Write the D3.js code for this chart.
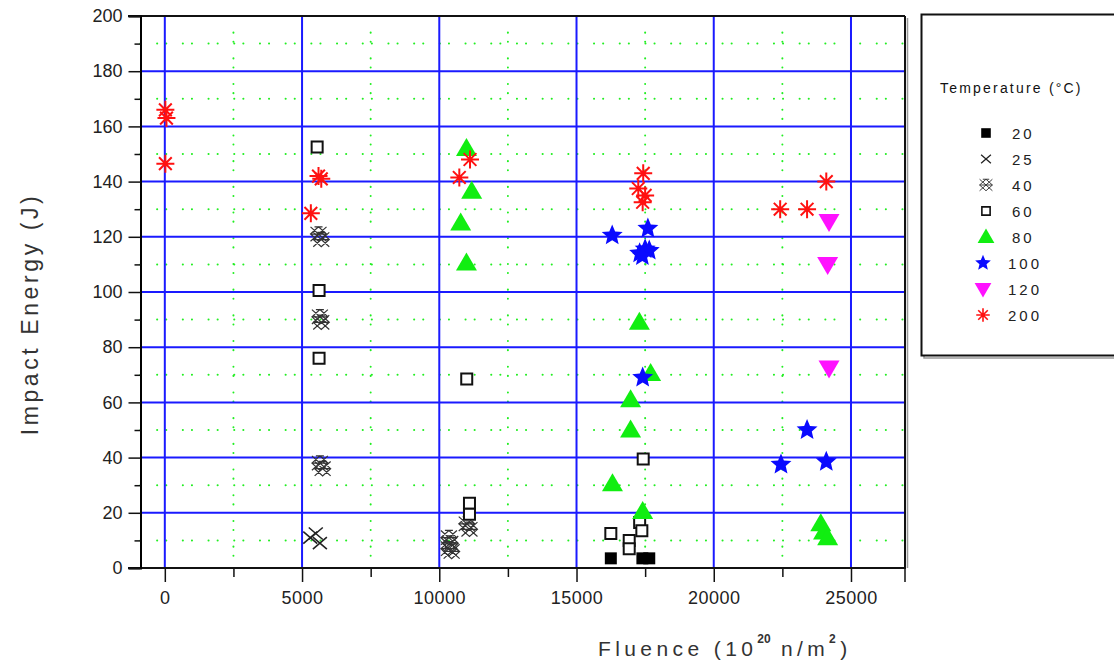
<!DOCTYPE html>
<html>
<head>
<meta charset="utf-8">
<script src="https://cdn.jsdelivr.net/npm/d3@7"></script>
<style>
  body { margin: 0; background: #fff; }
  svg { display: block; font-family: "Liberation Sans", Arial, sans-serif; }
</style>
</head>
<body>
<div id="chart"></div>
<script>
// Temperatures (legend order) and points [fluence, impact energy]
const temps = ['20', '25', '40', '60', '80', '100', '120', '200'];
const t20 = [[16250, 3.5], [17400, 3.5], [17650, 3.5]];
const t25 = [[5300, 11], [5500, 12.5], [5650, 9]];
const t40 = [[5600, 121], [5700, 119], [5650, 91], [5700, 89], [5650, 38], [5750, 36],
  [10350, 11], [10400, 9], [10350, 7], [10450, 6], [11000, 16], [11100, 14]];
const t60 = [[5550, 152.5], [5620, 100.5], [5620, 76], [11000, 68.5], [11100, 23.5], [11100, 19.5],
  [17430, 39.5], [17300, 16.5], [17380, 13.5], [16250, 12.5], [16920, 10], [16920, 7]];
const t80 = [[10990, 152], [11180, 136.5], [10780, 125], [10990, 110.5], [17290, 89], [17700, 70.5],
  [16970, 61], [16970, 50], [16310, 30.5], [17410, 20.5], [23900, 16], [24000, 13], [24150, 11]];
const t100 = [[16300, 120.5], [17600, 123], [17300, 114], [17500, 115.5], [17650, 115], [17400, 113],
  [17410, 69], [23400, 50], [22450, 37.5], [24100, 38.5]];
const t120 = [[24200, 125.5], [24150, 110], [24200, 72.5]];
const t200 = [[20, 166], [60, 163], [20, 146.5], [5600, 142], [5700, 141], [5320, 128.5],
  [11120, 148], [10730, 141.5], [17430, 143], [17250, 137.5], [17500, 135], [17410, 132.5],
  [22420, 130], [23400, 130], [24100, 140]];
const seriesData = [t20, t25, t40, t60, t80, t100, t120, t200];

const xTicks = [0, 5000, 10000, 15000, 20000, 25000];
const xMinor = [2500, 7500, 12500, 17500, 22500];
const yTicks = [0, 20, 40, 60, 80, 100, 120, 140, 160, 180, 200];
const yMinor = [10, 30, 50, 70, 90, 110, 130, 150, 170, 190];

const W = 1114, H = 665;
const plot = { left: 140.5, right: 905, top: 16, bottom: 568 };

const svg = d3.select('#chart').append('svg')
  .attr('width', W)
  .attr('height', H);

const x = d3.scaleLinear().domain([-886, 26968]).range([plot.left, plot.right]);
const y = d3.scaleLinear().domain([0, 200]).range([plot.bottom, plot.top]);

// Grid: green dotted minor, blue solid major
const grid = svg.append('g');
grid.selectAll('.vminor').data(xMinor).enter().append('line')
  .attr('x1', d => x(d)).attr('x2', d => x(d))
  .attr('y1', plot.top).attr('y2', plot.bottom)
  .attr('stroke', '#22ee22').attr('stroke-width', 2)
  .attr('stroke-linecap', 'round')
  .attr('stroke-dasharray', '0.1,16.5,0.1,9');
grid.selectAll('.hminor').data(yMinor).enter().append('line')
  .attr('x1', plot.left).attr('x2', plot.right)
  .attr('y1', d => y(d)).attr('y2', d => y(d))
  .attr('stroke', '#22ee22').attr('stroke-width', 2)
  .attr('stroke-linecap', 'round')
  .attr('stroke-dasharray', '0.1,16.5,0.1,9');
grid.selectAll('.vmajor').data(xTicks).enter().append('line')
  .attr('x1', d => x(d)).attr('x2', d => x(d))
  .attr('y1', plot.top).attr('y2', plot.bottom)
  .attr('stroke', '#1a1aff').attr('stroke-width', 2);
grid.selectAll('.hmajor').data(yTicks.slice(1, -1)).enter().append('line')
  .attr('x1', plot.left).attr('x2', plot.right)
  .attr('y1', d => y(d)).attr('y2', d => y(d))
  .attr('stroke', '#1a1aff').attr('stroke-width', 2);

// Frame: top and right border with shadow
svg.append('line').attr('x1', 128).attr('x2', plot.right)
  .attr('y1', plot.top).attr('y2', plot.top)
  .attr('stroke', '#111').attr('stroke-width', 2);
svg.append('line').attr('x1', plot.right).attr('x2', plot.right)
  .attr('y1', plot.top).attr('y2', plot.bottom)
  .attr('stroke', '#111').attr('stroke-width', 2);
svg.append('line').attr('x1', plot.right + 2.5).attr('x2', plot.right + 2.5)
  .attr('y1', plot.top + 2).attr('y2', plot.bottom)
  .attr('stroke', '#999').attr('stroke-width', 1.5);

// Axes
const xAxis = svg.append('g')
  .attr('transform', `translate(0,${plot.bottom})`)
  .call(d3.axisBottom(x).tickValues(xTicks).tickSize(14).tickPadding(6).tickFormat(d3.format('d')));
xAxis.select('.domain').remove();
svg.append('line').attr('x1', 128).attr('x2', plot.right + 1)
  .attr('y1', plot.bottom).attr('y2', plot.bottom)
  .attr('stroke', '#111').attr('stroke-width', 2);
svg.append('g')
  .attr('transform', `translate(0,${plot.bottom})`)
  .call(d3.axisBottom(x).tickValues(xMinor).tickSize(9).tickFormat(''))
  .select('.domain').remove();
svg.append('line').attr('x1', plot.right).attr('x2', plot.right)
  .attr('y1', plot.bottom).attr('y2', plot.bottom + 14)
  .attr('stroke', '#111').attr('stroke-width', 1.5);

const yAxis = svg.append('g')
  .attr('transform', `translate(${plot.left},0)`)
  .call(d3.axisLeft(y).tickValues(yTicks).tickSize(12).tickPadding(6));
yAxis.select('.domain').attr('stroke-width', 2);
svg.append('g')
  .attr('transform', `translate(${plot.left},0)`)
  .call(d3.axisLeft(y).tickValues(yMinor).tickSize(6).tickFormat(''))
  .select('.domain').remove();

svg.selectAll('.tick line').attr('stroke', '#111').attr('stroke-width', 1.5);
svg.selectAll('.tick text').attr('font-size', 18).attr('fill', '#222')
  .attr('font-family', '"Liberation Sans", Arial, sans-serif');
xAxis.selectAll('.tick text').attr('dy', '0.9em').attr('letter-spacing', 0.5);

// Axis titles
svg.append('text')
  .attr('transform', `translate(38,${(plot.top + plot.bottom) / 2 + 22}) rotate(-90)`)
  .attr('text-anchor', 'middle')
  .attr('font-size', 23).attr('fill', '#333')
  .attr('letter-spacing', 3.6)
  .text('Impact Energy (J)');
const xt = svg.append('text')
  .attr('x', 598).attr('y', 656)
  .attr('font-size', 21).attr('fill', '#333')
  .attr('letter-spacing', 4.4);
xt.append('tspan').text('Fluence (10');
xt.append('tspan').attr('dy', -13).attr('font-size', 12).attr('font-weight', 'bold')
  .attr('letter-spacing', 0).text('20');
xt.append('tspan').attr('dy', 13).text(' n/m');
xt.append('tspan').attr('dy', -13).attr('font-size', 12).attr('font-weight', 'bold').text('2');
xt.append('tspan').attr('dy', 13).text(')');

// Marker shapes
function starPath(r) {
  const pts = [];
  for (let i = 0; i < 10; i++) {
    const a = -Math.PI / 2 + i * Math.PI / 5;
    const rr = i % 2 === 0 ? r : r * 0.45;
    pts.push([rr * Math.cos(a), rr * Math.sin(a)]);
  }
  return 'M' + pts.map(p => p.join(',')).join('L') + 'Z';
}
function asteriskPath(r) {
  let p = '';
  for (let i = 0; i < 4; i++) {
    const a = i * Math.PI / 4;
    p += `M${-r * Math.cos(a)},${-r * Math.sin(a)}L${r * Math.cos(a)},${r * Math.sin(a)}`;
  }
  return p;
}
function hexCrossPath(r) {
  const h = r * 0.9;
  return `M${-r},${-h}L${r},${h}M${r},${-h}L${-r},${h}` +
    `M${-r},0L0,${-h}L${r},0L0,${h}Z` +
    `M${-r * 0.5},${-h}L${r * 0.5},${-h}M${-r},0L${r},0`;
}

const styles = [
  { d: s => `M${-6 * s},${-6 * s}h${12 * s}v${12 * s}h${-12 * s}Z`, fill: '#000', stroke: 'none', sw: 0, ls: 0.8 },
  { d: s => `M${-7 * s},${-6 * s}L${7 * s},${6 * s}M${7 * s},${-6 * s}L${-7 * s},${6 * s}`, fill: 'none', stroke: '#222', sw: 1.6, ls: 0.7 },
  { d: s => hexCrossPath(8 * s), fill: 'none', stroke: '#333', sw: 1.2, ls: 0.8 },
  { d: s => `M${-5.5 * s},${-5.5 * s}h${11 * s}v${11 * s}h${-11 * s}Z`, fill: '#fff', stroke: '#111', sw: 2, ls: 0.75 },
  { d: s => `M0,${-10.5 * s}L${10.5 * s},${7.5 * s}L${-10.5 * s},${7.5 * s}Z`, fill: '#11ee11', stroke: 'none', sw: 0, ls: 0.8 },
  { d: s => starPath(11 * s), fill: '#0a0aff', stroke: 'none', sw: 0, ls: 0.75 },
  { d: s => `M0,${10.5 * s}L${10.5 * s},${-7.5 * s}L${-10.5 * s},${-7.5 * s}Z`, fill: '#ff11ff', stroke: 'none', sw: 0, ls: 0.8 },
  { d: s => asteriskPath(9 * s), fill: 'none', stroke: '#ff1111', sw: 2, ls: 0.75 }
];

const marks = svg.append('g');
seriesData.forEach((pts, i) => {
  const st = styles[i];
  marks.selectAll(null).data(pts).enter().append('path')
    .attr('transform', d => `translate(${x(d[0])},${y(d[1])})`)
    .attr('d', st.d(1))
    .attr('fill', st.fill)
    .attr('stroke', st.stroke)
    .attr('stroke-width', st.sw);
});

// Legend
const lg = svg.append('g');
lg.append('rect').attr('x', 924).attr('y', 17).attr('width', 200).attr('height', 341)
  .attr('fill', 'none').attr('stroke', '#999').attr('stroke-width', 1.5);
lg.append('rect').attr('x', 921.5).attr('y', 14.5).attr('width', 200).attr('height', 341)
  .attr('fill', '#fff').attr('stroke', '#111').attr('stroke-width', 2);
lg.append('text').attr('x', 940).attr('y', 93)
  .attr('font-size', 14).attr('fill', '#111').attr('letter-spacing', 2.2)
  .text('Temperature (°C)');
temps.forEach((t, i) => {
  const cy = 137 + i * 26;
  const st = styles[i];
  lg.append('path')
    .attr('transform', `translate(${i >= 5 ? 983 : 986},${cy - 4})`)
    .attr('d', st.d(st.ls))
    .attr('fill', st.fill)
    .attr('stroke', st.stroke)
    .attr('stroke-width', st.sw * 0.8);
  lg.append('text')
    .attr('x', i >= 5 ? 1008 : 1012).attr('y', cy + 2)
    .attr('font-size', 15).attr('fill', '#222').attr('letter-spacing', 3)
    .text(t);
});
</script>
</body>
</html>
